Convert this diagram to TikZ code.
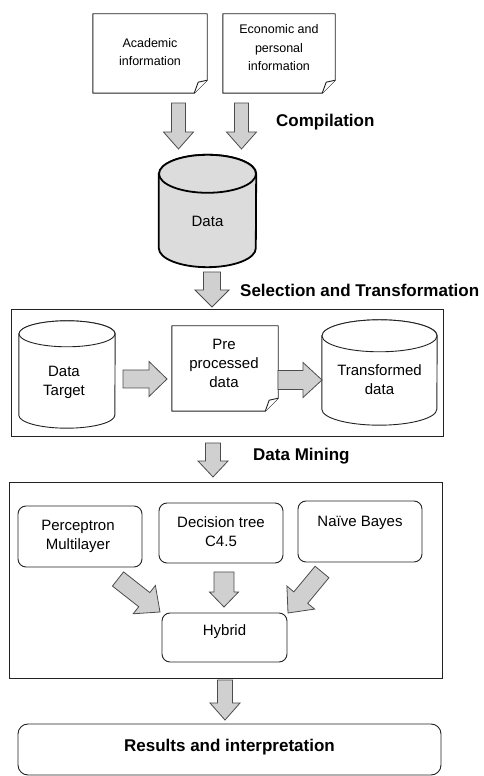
\documentclass[tikz,border=0pt]{standalone}
\usepackage{fontspec}
\setmainfont{Liberation Sans}
\usetikzlibrary{calc,backgrounds}
\definecolor{arrgray}{HTML}{D0D0D0}
\definecolor{cylgray}{HTML}{DCDCDC}
\definecolor{linec}{HTML}{222222}
\newcommand\fatarrow[5]{%
  \path ($(#2)!#5!(#1)$) coordinate (fac);
  \draw[fatarr] ($(#1)!#3!90:(#2)$) -- ($(fac)!#3!-90:(#1)$) -- ($(fac)!#4!-90:(#1)$) -- (#2)
     -- ($(fac)!#4!90:(#1)$) -- ($(fac)!#3!90:(#1)$) -- ($(#1)!#3!-90:(#2)$) -- cycle;}
\newcommand\docshape[1]{%
  \draw[docline] (#1.north west) -- (#1.north east) -- ([yshift=13pt]#1.south east)
     -- ([xshift=-13pt]#1.south east) -- (#1.south west) -- cycle;
  \draw[docline] ([xshift=-13pt]#1.south east) .. controls ([xshift=-11pt,yshift=6pt]#1.south east)
     .. ([xshift=-9pt,yshift=11pt]#1.south east) -- ([yshift=13pt]#1.south east);}
\newcommand\cylshape[4]{%
  \draw[#4] ([yshift=-#3pt]#1.north west) -- ([yshift=#3pt]#1.south west)
     arc[start angle=180, end angle=360, x radius=#2, y radius=#3]
     -- ([yshift=-#3pt]#1.north east)
     arc[start angle=0, end angle=180, x radius=#2, y radius=#3] -- cycle;
  \draw[#4] ([yshift=-#3pt]#1.north) ellipse[x radius=#2, y radius=#3];}
\begin{document}
\begin{tikzpicture}[x=1pt,y=1pt,
  txt/.style={font=\fontsize{15}{19}\selectfont, align=center, inner sep=0},
  smalltxt/.style={font=\fontsize{12.5}{18.5}\selectfont, align=center, inner sep=0},
  head/.style={font=\fontsize{17}{20}\selectfont\bfseries, inner sep=0, anchor=west},
  shapebox/.style={inner sep=0, draw=none},
  framebox/.style={draw=linec, line width=0.9pt, inner sep=0},
  rbox/.style={draw=linec, line width=0.9pt, rounded corners=8pt, inner sep=0},
  docline/.style={draw=linec, line width=0.9pt, fill=white, line join=round},
  cylw/.style={draw=linec, line width=0.9pt, fill=white},
  cylg/.style={draw=black, line width=1.8pt, fill=cylgray},
  fatarr/.style={draw=black!70, line width=0.8pt, fill=arrgray, line join=miter},
]
\useasboundingbox (0,0) rectangle (483,776);

% top documents
\node[shapebox, minimum width=114, minimum height=79] (doc1) at (150,722.5) {};
\node[smalltxt] (doc1t) at (150,724) {Academic\\information};
\node[shapebox, minimum width=112, minimum height=79] (doc2) at (279,722.5) {};
\node[smalltxt] (doc2t) at (279,728) {Economic and\\personal\\information};

\node[head] (comp) at (276,654) {Compilation};

% data cylinder
\node[shapebox, minimum width=97, minimum height=112] (data) at (207.5,565) {};
\node[txt] (datat) at (207.5,555) {Data};

\node[head] (sel) at (240,486) {Selection and Transformation};

% box 1
\node[framebox, minimum width=432, minimum height=127] (box1) at (227,403.5) {};
\node[shapebox, minimum width=96, minimum height=107] (tgt) at (67,401.5) {};
\node[txt] (tgtt) at (64,394) {Data\\Target};
\node[shapebox, minimum width=106, minimum height=85] (pre) at (225,407.5) {};
\node[txt] (pret) at (224,413) {Pre\\processed\\data};
\node[shapebox, minimum width=115, minimum height=105] (trf) at (379.5,403.5) {};
\node[txt] (trft) at (379.5,396) {Transformed\\data};

\node[head] (dm) at (253,320) {Data Mining};

% box 2
\node[framebox, minimum width=433, minimum height=196] (box2) at (225.5,196) {};
\node[rbox, minimum width=124, minimum height=61] (mlp) at (80,239.5) {};
\node[txt] (mlpt) at (78,240) {Perceptron\\Multilayer};
\node[rbox, minimum width=124, minimum height=60] (dt) at (221,243) {};
\node[txt] (dtt) at (221,244) {Decision tree\\C4.5};
\node[rbox, minimum width=124, minimum height=61] (nb) at (360,244.5) {};
\node[txt] (nbt) at (360,253) {Naïve Bayes};
\node[rbox, minimum width=125, minimum height=49] (hyb) at (224.5,138.5) {};
\node[txt] (hybt) at (224.5,144) {Hybrid};

% results
\node[rbox, rounded corners=10pt, minimum width=423, minimum height=51] (res) at (229.5,26.5) {};
\node[txt, font=\fontsize{17}{20}\selectfont\bfseries] (rest) at (229.5,29) {Results and interpretation};

\begin{scope}[on background layer]
  \docshape{doc1}
  \docshape{doc2}
  \docshape{pre}
  \cylshape{data}{48.5}{19}{cylg}
  \cylshape{tgt}{48}{13}{cylw}
  \cylshape{trf}{57.5}{16}{cylw}
\end{scope}

% arrow end points
\coordinate (a1s) at (178.5,673); \coordinate (a1e) at (178.5,627);
\coordinate (a2s) at (241.5,673); \coordinate (a2e) at (241.5,627);
\coordinate (a3s) at (212,504);   \coordinate (a3e) at (212,469);
\coordinate (a4s) at (123,397);   \coordinate (a4e) at (167,397);
\coordinate (a5s) at (278,396);   \coordinate (a5e) at (322,396);
\coordinate (a6s) at (213,333);   \coordinate (a6e) at (213,299);
\coordinate (a7s) at (118,197);   \coordinate (a7e) at (160,164);
\coordinate (a8s) at (224,204);   \coordinate (a8e) at (224,169);
\coordinate (a9s) at (322,204);   \coordinate (a9e) at (288,163);
\coordinate (a10s) at (225,96);   \coordinate (a10e) at (225,56);

\fatarrow{a1s}{a1e}{7pt}{15pt}{17pt}
\fatarrow{a2s}{a2e}{7pt}{15pt}{17pt}
\fatarrow{a3s}{a3e}{8.5pt}{17pt}{17pt}
\fatarrow{a4s}{a4e}{9pt}{17.5pt}{18pt}
\fatarrow{a5s}{a5e}{9.5pt}{17.5pt}{19pt}
\fatarrow{a6s}{a6e}{7.5pt}{15pt}{16pt}
\fatarrow{a7s}{a7e}{9pt}{18pt}{20pt}
\fatarrow{a8s}{a8e}{10pt}{14.5pt}{15pt}
\fatarrow{a9s}{a9e}{9pt}{18pt}{20pt}
\fatarrow{a10s}{a10e}{7.5pt}{15pt}{17pt}
\end{tikzpicture}
\end{document}
